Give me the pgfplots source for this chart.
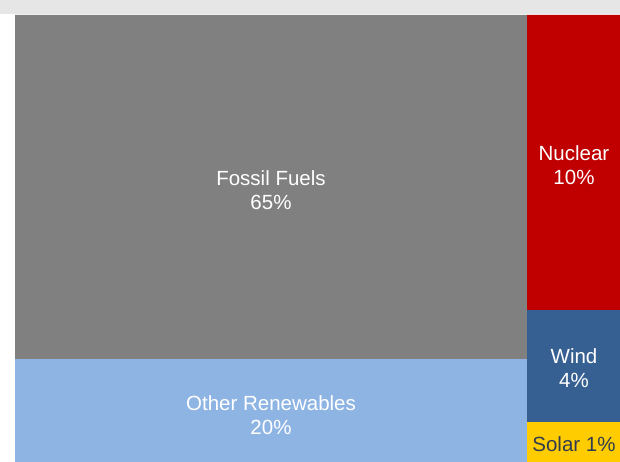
\documentclass[border=0pt]{standalone}
\usepackage{pgfplots}
\pgfplotsset{compat=1.18}
\usepackage{fontspec}
\setmainfont{Liberation Sans}
\definecolor{bandgray}{HTML}{E6E6E6}
\definecolor{fossil}{HTML}{808080}
\definecolor{nuclear}{HTML}{C00000}
\definecolor{wind}{HTML}{376092}
\definecolor{otherren}{HTML}{8EB4E3}
\definecolor{solar}{HTML}{FFCC00}
\definecolor{solartext}{HTML}{323C50}
\tikzset{lbl/.style={font=\fontsize{20.5}{24}\selectfont, align=center, inner sep=0pt}}
\begin{document}
\begin{tikzpicture}
\begin{axis}[
  width=620pt, height=462pt, scale only axis,
  xmin=0, xmax=620, ymin=0, ymax=462, y dir=reverse,
  hide axis, clip=true,
]
% title band (cut off at top)
\addplot[fill=bandgray, draw=none] coordinates {(0,0) (620,0) (620,14) (0,14) (0,0)};
% treemap tiles
\addplot[fill=fossil, draw=none] coordinates {(15,15) (527,15) (527,359) (15,359) (15,15)};
\addplot[fill=otherren, draw=none] coordinates {(15,359) (527,359) (527,462) (15,462) (15,359)};
\addplot[fill=nuclear, draw=none] coordinates {(527,15) (620,15) (620,310) (527,310) (527,15)};
\addplot[fill=wind, draw=none] coordinates {(527,310) (620,310) (620,422) (527,422) (527,310)};
\addplot[fill=solar, draw=none] coordinates {(527,422) (620,422) (620,462) (527,462) (527,422)};
% labels
\node[lbl, white] at (axis cs:271,190) {Fossil Fuels\\65\%};
\node[lbl, white] at (axis cs:271,415) {Other Renewables\\20\%};
\node[lbl, white] at (axis cs:574,165) {Nuclear\\10\%};
\node[lbl, white] at (axis cs:574,368) {Wind\\4\%};
\node[lbl, text=solartext] at (axis cs:574,444) {Solar 1\%};
\end{axis}
\end{tikzpicture}
\end{document}
